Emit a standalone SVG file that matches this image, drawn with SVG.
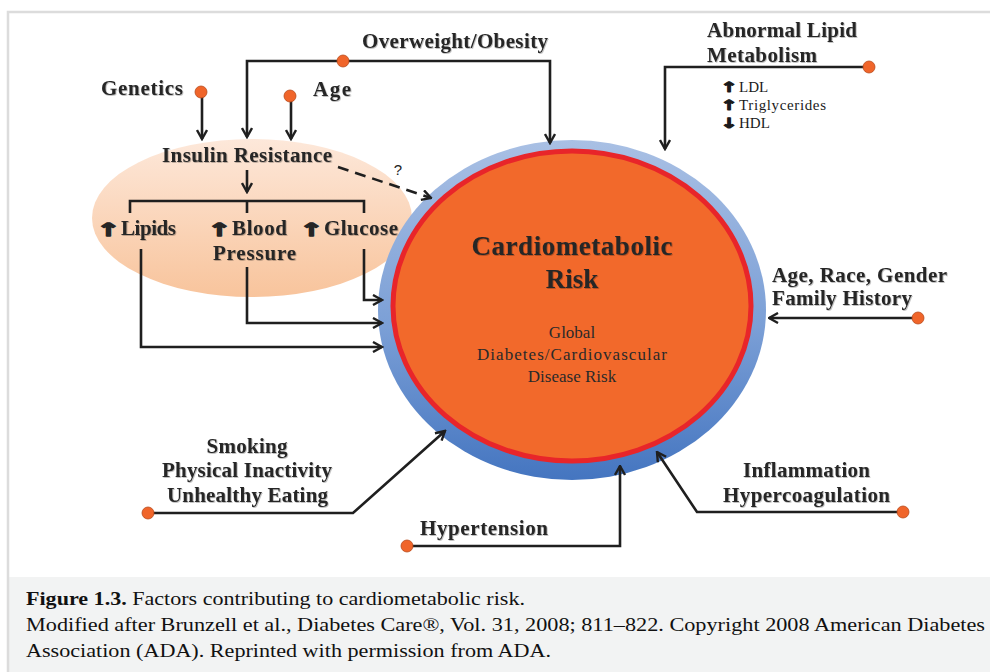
<svg xmlns="http://www.w3.org/2000/svg" width="990" height="672" viewBox="0 0 990 672">
  <defs>
    <style>
      .lbl { font-family: "Liberation Serif", "Times New Roman", serif; font-weight: bold; font-size: 21px; fill: #262626; filter: url(#soft); }
      .big { font-size: 27px; }
      .sm { font-family: "Liberation Serif", "Times New Roman", serif; font-size: 15px; fill: #1a1a1a; }
      .arw { font-family: "DejaVu Sans", sans-serif; font-weight: bold; font-size: 18px; fill: #262626; stroke: #262626; stroke-width: 1.3; stroke-linejoin: round; }
      .arws { font-family: "DejaVu Sans", sans-serif; font-weight: bold; font-size: 14px; fill: #1a1a1a; stroke: #1a1a1a; stroke-width: 1; stroke-linejoin: round; }
      .mid { font-family: "Liberation Serif", "Times New Roman", serif; font-size: 17px; fill: #2a2a2a; }
      .cap { font-family: "Liberation Serif", "Times New Roman", serif; font-size: 19px; fill: #111; }
      .wire { fill: none; stroke: #1f1f1f; stroke-width: 2.6; }
      .dot { fill: #f0652a; stroke: #b84a1c; stroke-width: 0.8; }
    </style>
    <filter id="soft" x="-5%" y="-20%" width="110%" height="140%">
      <feDropShadow dx="0.8" dy="0.8" stdDeviation="0.7" flood-color="#000" flood-opacity="0.3"/>
    </filter>
    <linearGradient id="ring" x1="0" y1="0" x2="0" y2="1">
      <stop offset="0" stop-color="#a9c0e4"/>
      <stop offset="0.55" stop-color="#7b9fd6"/>
      <stop offset="1" stop-color="#4475c0"/>
    </linearGradient>
    <linearGradient id="peach" x1="0" y1="0" x2="0" y2="1">
      <stop offset="0" stop-color="#fde8da"/>
      <stop offset="1" stop-color="#f8c49c"/>
    </linearGradient>
    <marker id="arr" viewBox="0 0 12 12" refX="10.5" refY="6" markerWidth="12" markerHeight="12" markerUnits="userSpaceOnUse" orient="auto">
      <path d="M1.5,1 L10.5,6 L1.5,11" fill="none" stroke="#1f1f1f" stroke-width="2.4" stroke-linejoin="miter"/>
    </marker>
  </defs>

  <!-- page frame -->
  <rect x="0" y="0" width="990" height="672" fill="#ffffff"/>
  <rect x="9" y="577" width="981" height="95" fill="#f2f3f3"/>
  <path d="M8,672 V12 H990" fill="none" stroke="#dcdcdc" stroke-width="2.5"/>

  <!-- insulin resistance cluster background -->
  <g id="insulin-cloud">
    <ellipse cx="252" cy="218" rx="160" ry="79" fill="url(#peach)"/>
  </g>

  <!-- central risk circle -->
  <g id="cardiometabolic-risk">
    <ellipse cx="572" cy="310" rx="194" ry="170" fill="url(#ring)"/>
    <ellipse cx="572" cy="306" rx="179" ry="155" fill="#f2692b" stroke="#e8252a" stroke-width="5"/>
    <text class="lbl big" x="572" y="255" text-anchor="middle" textLength="201">Cardiometabolic</text>
    <text class="lbl big" x="572" y="288" text-anchor="middle">Risk</text>
    <text class="mid" x="572" y="338" text-anchor="middle">Global</text>
    <text class="mid" x="572" y="360" text-anchor="middle" textLength="190">Diabetes/Cardiovascular</text>
    <text class="mid" x="572" y="382" text-anchor="middle">Disease Risk</text>
  </g>

  <!-- connectors -->
  <g id="connectors">
    <!-- overweight / obesity feeds both insulin resistance and the risk circle -->
    <path class="wire" d="M343,61 H247 V137" marker-end="url(#arr)"/>
    <path class="wire" d="M343,61 H550 V143" marker-end="url(#arr)"/>
    <path class="wire" d="M202,94 V139" marker-end="url(#arr)"/>
    <path class="wire" d="M291,97 V139" marker-end="url(#arr)"/>
    <path class="wire" d="M247,170 V192" marker-end="url(#arr)"/>
    <path class="wire" d="M130,213 V201 H364 V213 M247,201 V213"/>
    <path class="wire" d="M338,167 L431,198" stroke-dasharray="11,7" marker-end="url(#arr)"/>
    <path class="wire" d="M364,249 V300 H382" marker-end="url(#arr)"/>
    <path class="wire" d="M247,267 V323 H382" marker-end="url(#arr)"/>
    <path class="wire" d="M141,249 V347 H382" marker-end="url(#arr)"/>
    <path class="wire" d="M869,67 H665 V149" marker-end="url(#arr)"/>
    <path class="wire" d="M918,318 H769" marker-end="url(#arr)"/>
    <path class="wire" d="M148,513 H353 L445,431" marker-end="url(#arr)"/>
    <path class="wire" d="M407,546 H620 V466" marker-end="url(#arr)"/>
    <path class="wire" d="M903,512 H697 L657,452" marker-end="url(#arr)"/>
  </g>

  <!-- source dots -->
  <g id="sources">
    <circle class="dot" cx="343" cy="61" r="6"/>
    <circle class="dot" cx="201" cy="92" r="6"/>
    <circle class="dot" cx="290" cy="96" r="6"/>
    <circle class="dot" cx="869" cy="67" r="6"/>
    <circle class="dot" cx="918" cy="318" r="6"/>
    <circle class="dot" cx="148" cy="513" r="6"/>
    <circle class="dot" cx="407" cy="546" r="6"/>
    <circle class="dot" cx="903" cy="512" r="6"/>
  </g>

  <g id="overweight">
    <text class="lbl" x="362" y="48" textLength="186">Overweight/Obesity</text>
  </g>
  <g id="genetics">
    <text class="lbl" x="101" y="95" textLength="82">Genetics</text>
  </g>
  <g id="age">
    <text class="lbl" x="313" y="96" textLength="38">Age</text>
  </g>
  <g id="insulin-resistance">
    <text class="lbl" x="162" y="162" textLength="170">Insulin Resistance</text>
  </g>
  <g id="lipids">
    <text class="arw" text-anchor="middle" transform="translate(108,236) scale(1.6,1)">↑</text>
    <text class="lbl" x="121" y="235" textLength="55">Lipids</text>
  </g>
  <g id="blood-pressure">
    <text class="arw" text-anchor="middle" transform="translate(219,236) scale(1.6,1)">↑</text>
    <text class="lbl" x="232" y="235" textLength="55">Blood</text>
    <text class="lbl" x="213" y="260" textLength="83">Pressure</text>
  </g>
  <g id="glucose">
    <text class="arw" text-anchor="middle" transform="translate(311,236) scale(1.6,1)">↑</text>
    <text class="lbl" x="324" y="235" textLength="74">Glucose</text>
  </g>
  <g id="question">
    <text x="398" y="175" font-family="Liberation Sans, sans-serif" font-size="15" fill="#222" text-anchor="middle">?</text>
  </g>
  <g id="lipid-metabolism">
    <text class="lbl" x="707" y="37" textLength="150">Abnormal Lipid</text>
    <text class="lbl" x="707" y="62" textLength="110">Metabolism</text>
    <text class="arws" text-anchor="middle" transform="translate(729,92) scale(1.5,1)">↑</text>
    <text class="sm" x="739" y="92">LDL</text>
    <text class="arws" text-anchor="middle" transform="translate(729,110) scale(1.5,1)">↑</text>
    <text class="sm" x="739" y="110" textLength="87">Triglycerides</text>
    <text class="arws" text-anchor="middle" transform="translate(729,128) scale(1.5,1)">↓</text>
    <text class="sm" x="739" y="128">HDL</text>
  </g>
  <g id="demographics">
    <text class="lbl" x="772" y="282" textLength="175">Age, Race, Gender</text>
    <text class="lbl" x="772" y="305" textLength="140">Family History</text>
  </g>
  <g id="lifestyle">
    <text class="lbl" x="247" y="453" text-anchor="middle" textLength="81">Smoking</text>
    <text class="lbl" x="162" y="477" textLength="170">Physical Inactivity</text>
    <text class="lbl" x="167" y="502" textLength="161">Unhealthy Eating</text>
  </g>
  <g id="hypertension">
    <text class="lbl" x="420" y="535" textLength="128">Hypertension</text>
  </g>
  <g id="inflammation">
    <text class="lbl" x="743" y="477" textLength="127">Inflammation</text>
    <text class="lbl" x="723" y="502" textLength="167">Hypercoagulation</text>
  </g>

  <!-- figure caption -->
  <g id="caption">
    <text class="cap" x="26" y="605" textLength="499" lengthAdjust="spacingAndGlyphs"><tspan font-weight="bold">Figure 1.3.</tspan> Factors contributing to cardiometabolic risk.</text>
    <text class="cap" x="26" y="631" textLength="959" lengthAdjust="spacingAndGlyphs">Modified after Brunzell et al., Diabetes Care®, Vol. 31, 2008; 811–822. Copyright 2008 American Diabetes</text>
    <text class="cap" x="26" y="657" textLength="525" lengthAdjust="spacingAndGlyphs">Association (ADA). Reprinted with permission from ADA.</text>
  </g>
</svg>
